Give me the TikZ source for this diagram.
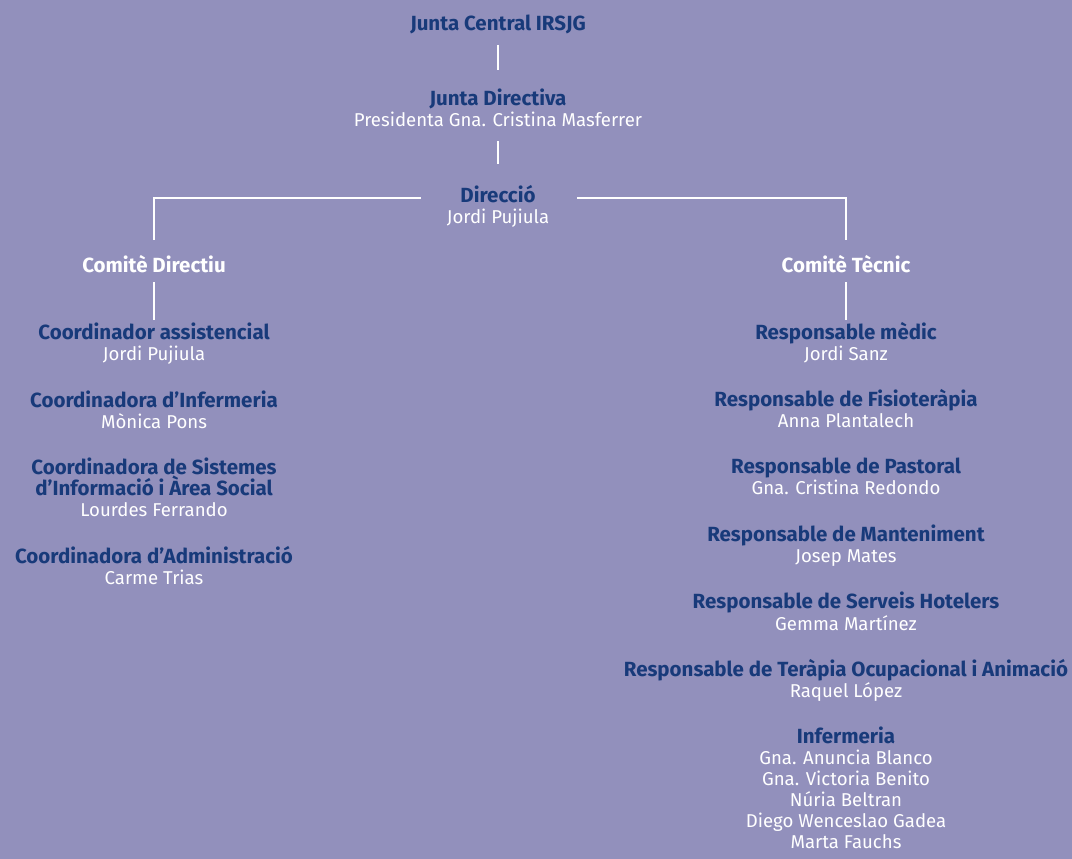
\documentclass[tikz,border=0pt]{standalone}
\usepackage{fontspec}
\setmainfont{Fira Sans}
\definecolor{bgpurple}{RGB}{146,144,188}
\definecolor{ttlblue}{RGB}{24,58,122}
\tikzset{
  ttl/.style={font=\bfseries\fontsize{20.5}{21}\selectfont,text=ttlblue,
    inner sep=0pt,anchor=base,align=center},
  cmt/.style={ttl,text=white},
  nm/.style={font=\fontsize{18.6}{21}\selectfont,text=white,
    inner sep=0pt,anchor=base,align=center},
  link/.style={draw=white,line width=2.8pt},
}
\begin{document}
\begin{tikzpicture}[x=1pt,y=-1pt]
  \useasboundingbox[fill=bgpurple] (0,0) rectangle (1072,859);
  % top of the chart
  \node[ttl] (jc) at (498,31) {Junta Central IRSJG};
  \node[ttl] (jd) at (498,106) {Junta Directiva};
  \node[nm] (pres) at ([yshift=-21pt]jd.base) {Presidenta Gna. Cristina Masferrer};
  \node[ttl] (dir) at (498,202) {Direcció};
  \node[nm] (dirn) at ([yshift=-21pt]dir.base) {Jordi Pujiula};
  % committees
  \node[cmt] (cd) at (154,272) {Comitè Directiu};
  \node[cmt] (ct) at (846,272) {Comitè Tècnic};
  % left column
  \node[ttl] (ca) at (154,339) {Coordinador assistencial};
  \node[nm] (can) at ([yshift=-21pt]ca.base) {Jordi Pujiula};
  \node[ttl] (ci) at (154,407) {Coordinadora d’Infermeria};
  \node[nm] (cin) at ([yshift=-21pt]ci.base) {Mònica Pons};
  \node[ttl] (cs) at (154,495) {Coordinadora de Sistemes\\d’Informació i Àrea Social};
  \node[nm] (csn) at ([yshift=-21pt]cs.base) {Lourdes Ferrando};
  \node[ttl] (cad) at (154,563) {Coordinadora d’Administració};
  \node[nm] (cadn) at ([yshift=-21pt]cad.base) {Carme Trias};
  % right column
  \node[ttl] (rm) at (846,339) {Responsable mèdic};
  \node[nm] (rmn) at ([yshift=-21pt]rm.base) {Jordi Sanz};
  \node[ttl] (rf) at (846,406) {Responsable de Fisioteràpia};
  \node[nm] (rfn) at ([yshift=-21pt]rf.base) {Anna Plantalech};
  \node[ttl] (rp) at (846,473) {Responsable de Pastoral};
  \node[nm] (rpn) at ([yshift=-21pt]rp.base) {Gna. Cristina Redondo};
  \node[ttl] (rma) at (846,541) {Responsable de Manteniment};
  \node[nm] (rman) at ([yshift=-21pt]rma.base) {Josep Mates};
  \node[ttl] (rs) at (846,608) {Responsable de Serveis Hotelers};
  \node[nm] (rsn) at ([yshift=-22pt]rs.base) {Gemma Martínez};
  \node[ttl] (rt) at (846,676) {Responsable de Teràpia Ocupacional i Animació};
  \node[nm] (rtn) at ([yshift=-21pt]rt.base) {Raquel López};
  \node[ttl] (inf) at (846,743) {Infermeria};
  \node[nm] (infn) at ([yshift=-105pt]inf.base) {Gna. Anuncia Blanco\\Gna. Victoria Benito\\Núria Beltran\\Diego Wenceslao Gadea\\Marta Fauchs};
  % connectors
  \draw[link] ([yshift=-14pt]jc.base) -- ([yshift=36pt]jd.base);
  \draw[link] ([yshift=-14pt]pres.base) -- ([yshift=38pt]dir.base);
  \draw[link] ([xshift=-77pt,yshift=4pt]dir.base) -| ([yshift=32pt]cd.base);
  \draw[link] ([xshift=79pt,yshift=4pt]dir.base) -| ([yshift=32pt]ct.base);
  \draw[link] ([yshift=-10pt]cd.base) -- ([yshift=19pt]ca.base);
  \draw[link] ([yshift=-10pt]ct.base) -- ([yshift=19pt]rm.base);
\end{tikzpicture}
\end{document}
